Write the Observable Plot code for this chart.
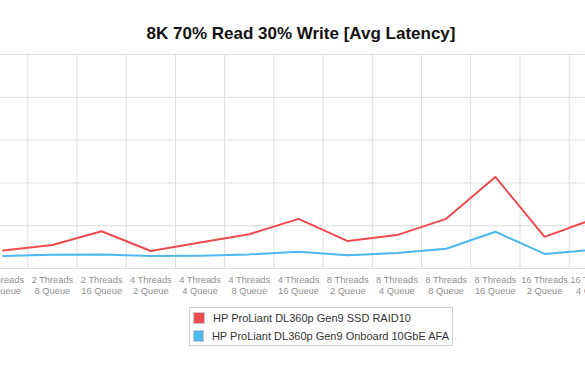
<!DOCTYPE html>
<html>
<head>
<meta charset="utf-8">
<script src="https://cdn.jsdelivr.net/npm/d3@7"></script>
<script src="https://cdn.jsdelivr.net/npm/@observablehq/plot@0.6"></script>
<style>
  html, body { margin: 0; padding: 0; background: #fff; overflow: hidden; }
  body { width: 585px; height: 378px; position: relative; font-family: "Liberation Sans", Arial, Helvetica, sans-serif; }
  #title { position: absolute; left: 0; top: 25px; width: 602px; text-align: center; font-size: 17px; line-height: 17px; font-weight: bold; color: #111; }
  #chart { position: absolute; left: 0; top: 46px; width: 585px; overflow: hidden; }
  #legend { position: absolute; left: 189px; top: 307px; width: 264px; height: 39px; box-sizing: border-box; border: 1px solid #cfcfcf; padding: 1px 3px; background: #fff; }
  .item { display: flex; align-items: center; height: 18px; font-size: 11px; color: #333; white-space: nowrap; }
  .sw { width: 12px; height: 12px; box-sizing: border-box; border: 1px solid #c8c8c8; margin-right: 8px; }
</style>
</head>
<body>
<div id="title"></div>
<div id="chart"></div>
<div id="legend"></div>
<script>
const chartTitle = "8K 70% Read 30% Write [Avg Latency]";
const categories = [
  "2 Threads\n4 Queue", "2 Threads\n8 Queue", "2 Threads\n16 Queue",
  "4 Threads\n2 Queue", "4 Threads\n4 Queue", "4 Threads\n8 Queue", "4 Threads\n16 Queue",
  "8 Threads\n2 Queue", "8 Threads\n4 Queue", "8 Threads\n8 Queue", "8 Threads\n16 Queue",
  "16 Threads\n2 Queue", "16 Threads\n4 Queue"
];
const seriesNames = ["HP ProLiant DL360p Gen9 SSD RAID10", "HP ProLiant DL360p Gen9 Onboard 10GbE AFA"];
const ssdRaid10 = [0.42, 0.55, 0.87, 0.41, 0.61, 0.80, 1.16, 0.64, 0.78, 1.16, 2.14, 0.74, 1.16];
const onboardAfa = [0.29, 0.32, 0.33, 0.29, 0.30, 0.33, 0.39, 0.31, 0.36, 0.46, 0.86, 0.34, 0.44];
const seriesColors = ["#ef4b4d", "#4cb8ee"];
const yTicks = [0, 1, 2, 3, 4, 5];

const seriesValues = [ssdRaid10, onboardAfa];
const rows = [];
seriesNames.forEach((name, s) => {
  seriesValues[s].forEach((v, i) => rows.push({series: name, index: i, value: v}));
});
const indices = categories.map((_, i) => i);
const boundaries = d3.range(categories.length + 1).map(i => i - 0.5);

document.getElementById("title").textContent = chartTitle;

const plot = Plot.plot({
  width: 585,
  height: 256,
  marginTop: 8,
  marginBottom: 34,
  marginLeft: 0,
  marginRight: 0,
  style: {fontFamily: "'Liberation Sans', Arial, Helvetica, sans-serif", background: "#fff"},
  x: {domain: [0, categories.length - 1], range: [2.7, 593.3]},
  y: {domain: [0, 5], axis: null},
  color: {domain: seriesNames, range: seriesColors},
  marks: [
    Plot.gridY(yTicks, {stroke: "#dddddd", strokeOpacity: 1}),
    Plot.gridX(boundaries, {stroke: "#dddddd", strokeOpacity: 1}),
    Plot.line(rows, {x: "index", y: "value", z: "series", stroke: "series", strokeWidth: 2}),
    Plot.axisX(indices, {
      tickFormat: i => categories[i],
      tickSize: 0,
      tickPadding: 7,
      fontSize: 9.3,
      fill: "#909090",
      lineHeight: 1.18,
      label: null
    })
  ]
});
document.getElementById("chart").appendChild(plot);

const legend = document.getElementById("legend");
seriesNames.forEach((name, s) => {
  const item = document.createElement("div");
  item.className = "item";
  const sw = document.createElement("span");
  sw.className = "sw";
  sw.style.background = seriesColors[s];
  const t = document.createElement("span");
  t.textContent = name;
  item.appendChild(sw);
  item.appendChild(t);
  legend.appendChild(item);
});
</script>
</body>
</html>
